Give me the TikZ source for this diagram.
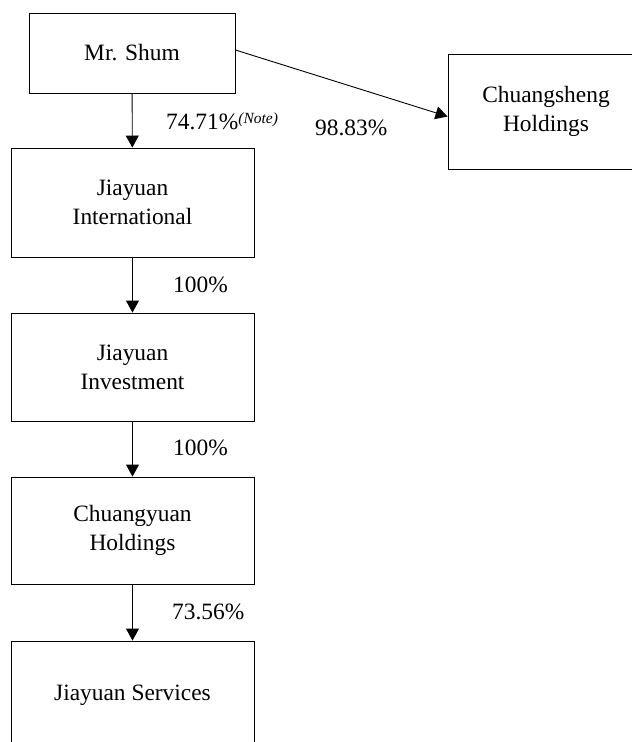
\documentclass[tikz,border=0pt]{standalone}
\usepackage{fontspec}
\setmainfont{Liberation Serif}
\usetikzlibrary{arrows.meta,positioning}

\begin{document}
\begin{tikzpicture}[x=1pt,y=-1pt,
    company/.style={draw,line width=0.9pt,rectangle,align=center,
        font=\fontsize{23.4}{29}\selectfont,inner sep=0pt},
    share/.style={anchor=west,inner sep=0pt,
        font=\fontsize{23.4}{29}\selectfont},
    own/.style={line width=0.9pt,-{Triangle[length=12pt,width=13pt]}}]

    \useasboundingbox (0,0) rectangle (632,742);
    \clip (0,0) rectangle (632,742);

    % the companies
    \node[company,minimum width=206pt,minimum height=80pt] (shum) at (132,53) {Mr. Shum};
    \node[company,minimum width=243pt,minimum height=109pt] (intl) at (132.5,202.5) {Jiayuan\\International};
    \node[company,minimum width=243pt,minimum height=108pt] (invest) at (132.5,367) {Jiayuan\\Investment};
    \node[company,minimum width=243pt,minimum height=107pt] (chuangyuan) at (132.5,530.5) {Chuangyuan\\Holdings};
    \node[company,minimum width=243pt,minimum height=108pt] (services) at (132.5,695) {Jiayuan Services};
    \node[company,minimum width=196pt,minimum height=115pt] (chuangsheng) at (546,111.5) {Chuangsheng\\Holdings};

    % the holdings
    \draw[own] (shum) -- (intl);
    \draw[own] (intl) -- (invest);
    \draw[own] (invest) -- (chuangyuan);
    \draw[own] (chuangyuan) -- (services);
    \draw[own] ([yshift=3pt]shum.east) -- ([yshift=-5pt]chuangsheng.west);

    % the percentages
    \node[share] (p1) at (166,121) {74.71\%\raisebox{6pt}{\fontsize{15.5}{15.5}\selectfont\itshape(Note)}};
    \node[share] (p2) at (315,128) {98.83\%};
    \node[share] (p3) at (173,285) {100\%};
    \node[share] (p4) at (173,448) {100\%};
    \node[share] (p5) at (172,612) {73.56\%};

\end{tikzpicture}
\end{document}
